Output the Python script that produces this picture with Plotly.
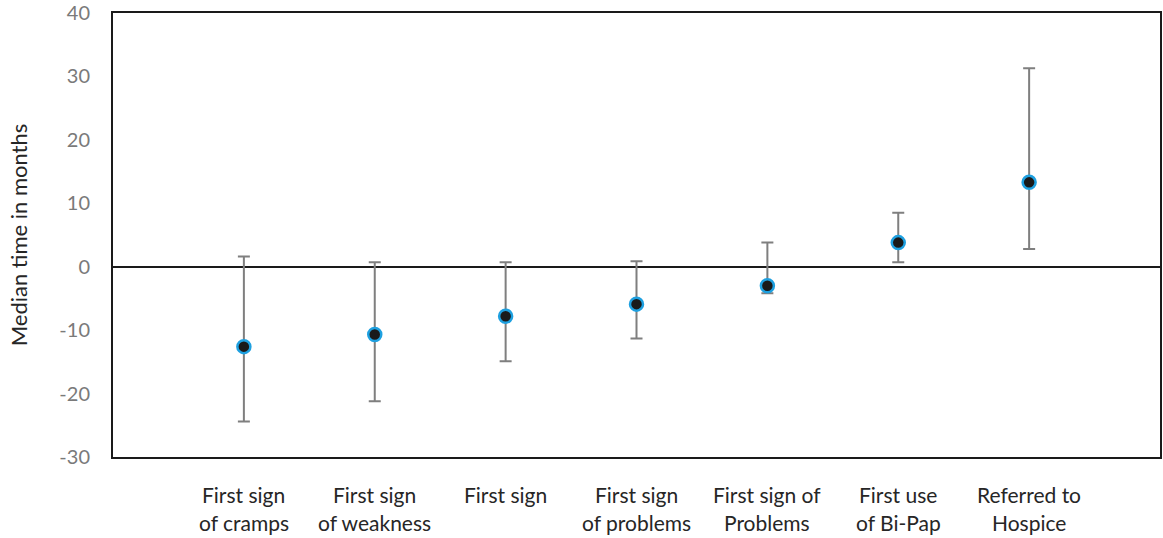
import plotly.graph_objects as go

categories = [
    "First sign\nof cramps",
    "First sign\nof weakness",
    "First sign",
    "First sign\nof problems",
    "First sign of\nProblems",
    "First use\nof Bi-Pap",
    "Referred to\nHospice",
]
positions = [1, 2, 3, 4, 5, 6, 7]
median = [-12.6, -10.7, -7.8, -5.9, -3.0, 3.8, 13.3]
upper = [1.6, 0.7, 0.7, 0.85, 3.8, 8.5, 31.3]
lower = [-24.4, -21.2, -14.9, -11.3, -4.2, 0.7, 2.8]
y_ticks = [-30, -20, -10, 0, 10, 20, 30, 40]
y_ticklabels = ["-30", "-20", "-10", "0", "10", "20", "30", "40"]

err_plus = [u - m for u, m in zip(upper, median)]
err_minus = [m - l for m, l in zip(median, lower)]

FONT = "Lato, Open Sans, sans-serif"

fig = go.Figure()
fig.add_trace(go.Scatter(
    x=positions, y=median, mode="markers",
    marker=dict(size=13, color="#1a1a1a", line=dict(color="#1ea0e0", width=2.5)),
    error_y=dict(type="data", symmetric=False, array=err_plus, arrayminus=err_minus,
                 color="#7f7f7f", thickness=2, width=6),
    showlegend=False,
))

annotations = []
for pos, cat in zip(positions, categories):
    lines = cat.split("\n")
    for i, line in enumerate(lines):
        annotations.append(dict(
            x=pos, xref="x", y=0, yref="paper", yanchor="middle",
            yshift=-37 - 28 * i, text=line, showarrow=False,
            font=dict(family=FONT, size=21, color="#262626"),
        ))

fig.update_layout(
    width=1163, height=538,
    margin=dict(l=113, r=3, t=13, b=81),
    paper_bgcolor="white", plot_bgcolor="white",
    annotations=annotations,
    xaxis=dict(range=[0, 8], showticklabels=False, showgrid=False, zeroline=False,
               showline=True, linecolor="#1a1a1a", linewidth=2, mirror=True, ticks="",
               automargin=False),
    yaxis=dict(range=[-30, 40], tickvals=y_ticks, ticktext=y_ticklabels, showgrid=False,
               zeroline=True, zerolinecolor="#1a1a1a", zerolinewidth=2,
               showline=True, linecolor="#1a1a1a", linewidth=2, mirror=True, ticks="",
               ticklabelstandoff=17, automargin=False, ticklabeloverflow="allow",
               tickfont=dict(family=FONT, size=20, color="#7a7a7a"),
               title=dict(text="Median time in months", standoff=26,
                          font=dict(family=FONT, size=22, color="#262626"))),
)

fig.write_html("out.html", config={"displayModeBar": False},
               post_script="document.body.style.margin='0px';")
